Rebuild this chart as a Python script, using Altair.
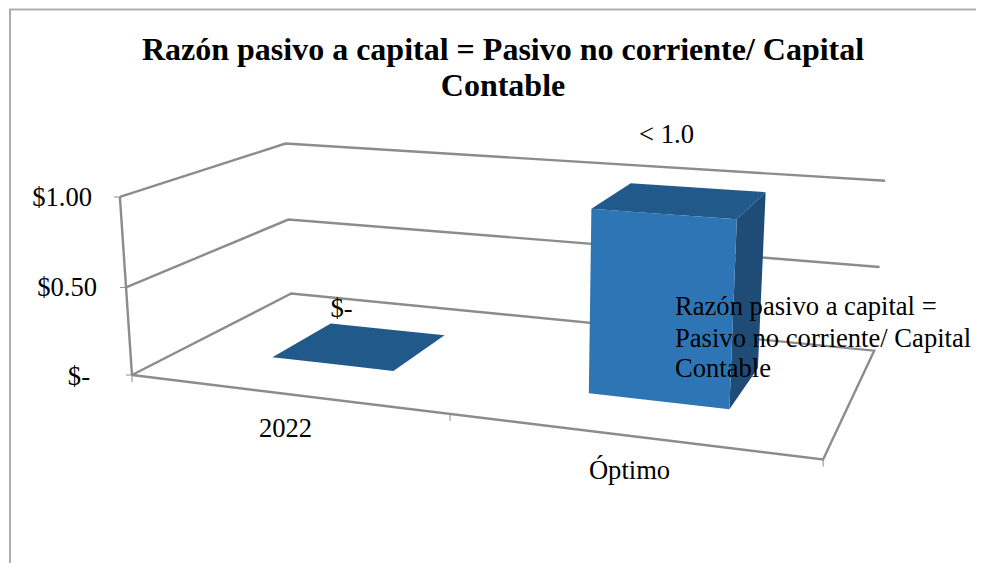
import numpy as np
import pandas as pd
import altair as alt

categories = ["2022", "Óptimo"]
values = [0.0, 1.0]
point_labels = ["$-", "< 1.0"]
tick_values = [0.0, 0.5, 1.0]
tick_labels = ["$-", "$0.50", "$1.00"]
title_lines = ["Razón pasivo a capital = Pasivo no corriente/ Capital", "Contable"]
legend_lines = ["Razón pasivo a capital =", "Pasivo no corriente/ Capital", "Contable"]

FONT = "Liberation Serif"
GREY = "#8c8c8c"
FACE = {"front": "#2e75b6", "top": "#22598b", "side": "#1e4c77"}
PW, PH = 968, 555

# Camera of the 3D scene, calibrated on the box corners: (category, depth, value) -> pixel
world = [(0,0,0),(0,1,0),(2,1,0),(2,0,0),(0,0,1),(0,1,1),(2,1,1),(0,0,.5),(0,1,.5),(2,1,.5)]
pixel = [(132,375),(291,294),(874,350),(823,460),(120,197),(285,143.5),(885,181),(126,287),(289,219.5),(880,267)]
A = []
for (a, d, v), (u, t) in zip(world, pixel):
    A.append([a, d, v, 1, 0, 0, 0, 0, -u*a, -u*d, -u*v, -u])
    A.append([0, 0, 0, 0, a, d, v, 1, -t*a, -t*d, -t*v, -t])
P = np.linalg.svd(np.array(A))[2][-1].reshape(3, 4)


def project(a, d, v):
    h = P @ np.array([a, d, v, 1.0])
    return float(h[0] / h[2]), float(h[1] / h[2])


# Frame lines
rows = []


def polyline(name, pts, width=2.4, color=GREY):
    for i, (x, y) in enumerate(pts):
        rows.append({"g": name, "i": i, "x": x, "y": y, "w": width, "c": color})


polyline("border", [(10, 563), (10, 9.5), (984, 9.5)], 2.0, "#adadad")
polyline("floor", [project(*p) for p in [(0,0,0),(0,1,0),(2,1,0),(2,0,0),(0,0,0)]])
polyline("wall", [project(0,0,0), project(0,0,1)])
for tv in tick_values[1:]:
    polyline(f"grid{tv}", [project(0,0,tv), project(0,1,tv), project(2,1,tv)])
for tv in tick_values:
    x, y = project(0, 0, tv)
    polyline(f"yt{tv}", [(x - 6, y), (x, y)], 1.0)
for a in range(len(categories) + 1):
    x, y = project(a, 0, 0)
    polyline(f"xt{a}", [(x, y), (x, y + 7)], 1.0)
lines = pd.DataFrame(rows)

# Bars as projected faces
face_rows = []


def add_face(name, kind, corners):
    xs = sorted({c[0] for c in corners})
    n = len(corners)
    for x in xs:
        ys = []
        for i in range(n):
            (x0, y0), (x1, y1) = corners[i], corners[(i + 1) % n]
            if min(x0, x1) <= x <= max(x0, x1):
                if x0 == x1:
                    ys += [y0, y1]
                else:
                    ys.append(y0 + (y1 - y0) * (x - x0) / (x1 - x0))
        face_rows.append({"f": name, "x": x, "y": min(ys), "y2": max(ys), "c": FACE[kind]})


for i, val in enumerate(values):
    a0, a1, d0, d1 = i + 0.3, i + 0.7, 0.3, 0.7
    add_face(f"{i}top", "top", [project(a0,d0,val), project(a1,d0,val), project(a1,d1,val), project(a0,d1,val)])
    if val > 0:
        add_face(f"{i}side", "side", [project(a1,d0,0), project(a1,d1,0), project(a1,d1,val), project(a1,d0,val)])
        add_face(f"{i}front", "front", [project(a0,d0,0), project(a1,d0,0), project(a1,d0,val), project(a0,d0,val)])
faces = pd.DataFrame(face_rows)

# Texts
texts = pd.DataFrame(
    [{"t": tick_labels[2], "x": 92, "y": 198, "al": "right"},
     {"t": tick_labels[1], "x": 97, "y": 288, "al": "right"},
     {"t": tick_labels[0], "x": 90, "y": 377, "al": "right"},
     {"t": categories[0], "x": 285.5, "y": 429, "al": "center"},
     {"t": categories[1], "x": 629.5, "y": 471, "al": "center"},
     {"t": point_labels[0], "x": 341.5, "y": 309, "al": "center"},
     {"t": point_labels[1], "x": 666.5, "y": 135, "al": "center"},
     {"t": legend_lines[0], "x": 675, "y": 307, "al": "left"},
     {"t": legend_lines[1], "x": 675, "y": 339, "al": "left"},
     {"t": legend_lines[2], "x": 675, "y": 369, "al": "left"}]
)

X = alt.X("x:Q", scale=alt.Scale(domain=[8, 8 + PW], nice=False, zero=False), axis=None)
Y = alt.Y("y:Q", scale=alt.Scale(domain=[8 + PH, 8], nice=False, zero=False), axis=None)

line_layer = alt.Chart(lines).mark_line(interpolate="linear").encode(
    x=X, y=Y, detail="g:N", order="i:Q",
    color=alt.Color("c:N", scale=None),
    strokeWidth=alt.StrokeWidth("w:Q", scale=None),
)
face_layer = alt.Chart(faces).mark_area(orient="vertical", interpolate="linear").encode(
    x=X, y=Y, y2="y2:Q", detail="f:N",
    color=alt.Color("c:N", scale=None),
)
layers = [line_layer, face_layer]
for al in ["left", "center", "right"]:
    layers.append(
        alt.Chart(texts[texts["al"] == al]).mark_text(
            align=al, baseline="middle", font=FONT, fontSize=26.6, color="#000000"
        ).encode(x=X, y=Y, text="t:N")
    )

chart = alt.layer(*layers).properties(
    width=PW, height=PH, padding=0,
    autosize=alt.AutoSizeParams(type="none"),
    background="#ffffff",
    title=alt.TitleParams(
        text=title_lines, font=FONT, fontSize=32, fontWeight="bold", color="#000000",
        anchor="middle", frame="group", dx=11, dy=97, lineHeight=36, offset=0,
    ),
).configure_view(stroke=None)

chart.save("out.html", embed_options={"renderer": "svg", "actions": False})
